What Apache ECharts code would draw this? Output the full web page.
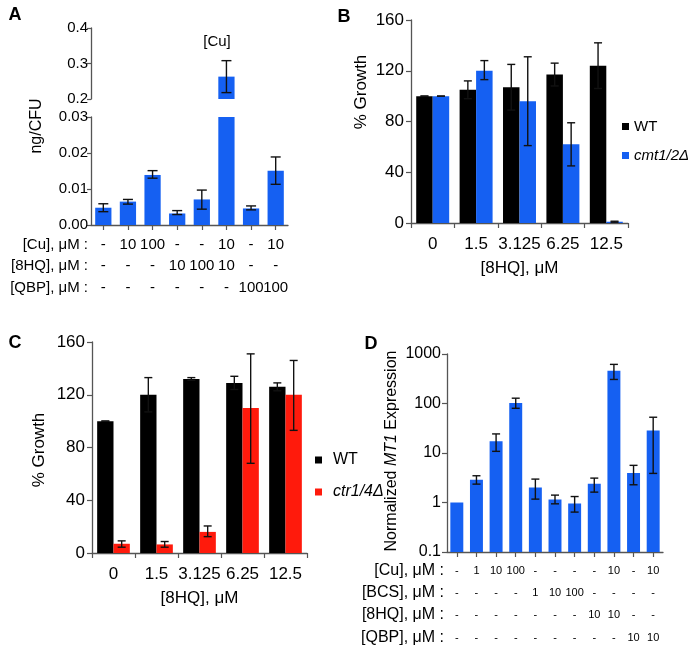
<!DOCTYPE html>
<html><head><meta charset="utf-8">
<script src="https://cdn.jsdelivr.net/npm/echarts@6/dist/echarts.min.js"></script>
<style>html,body{margin:0;padding:0;background:#fff}#c{width:689px;height:659px}</style>
</head><body><div id="c"></div>
<script>
// ---------- Panel A ----------
const aCu  = ['-','10','100','-','-','10','-','10'];
const a8HQ = ['-','-','-','10','100','10','-','-'];
const aQBP = ['-','-','-','-','-','-','100','100'];
const aVals = [0.0048, 0.0065, 0.0139, 0.0032, 0.0071, 0.263, 0.0046, 0.0151];
const aLow  = [0.0037, 0.0058, 0.0130, 0.0029, 0.0044, 0.218, 0.0042, 0.0113];
const aHigh = [0.0059, 0.0071, 0.0151, 0.0040, 0.0097, 0.308, 0.0053, 0.0189];
const aUpperTicks = [0.2, 0.4, 0.1];
const aLowerTicks = [0, 0.03, 0.01];
// ---------- Panel B ----------
const bCats = ['0','1.5','3.125','6.25','12.5'];
const bWT    = [100, 105, 107, 117, 124];
const bWTLo  = [100, 98, 89, 108, 106];
const bWTHi  = [100, 112, 125, 126, 142];
const bCmt   = [100, 120, 96, 62, 1];
const bCmtLo = [100, 113, 61, 45, 0.6];
const bCmtHi = [100, 128, 131, 79, 1.4];
// ---------- Panel C ----------
const cCats = ['0','1.5','3.125','6.25','12.5'];
const cWT    = [100, 120, 132, 129, 126];
const cWTLo  = [100, 107, 131, 124, 123];
const cWTHi  = [100, 133, 133, 134, 129];
const cCtr   = [7, 6.5, 16, 110, 120];
const cCtrLo = [4.4, 4.4, 12.4, 68, 93];
const cCtrHi = [9.2, 8.7, 20.5, 151, 146];
// ---------- Panel D ----------
const dCu  = ['-','1','10','100','-','-','-','-','10','-','10'];
const dBCS = ['-','-','-','-','1','10','100','-','-','-','-'];
const d8HQ = ['-','-','-','-','-','-','-','10','10','-','-'];
const dQBP = ['-','-','-','-','-','-','-','-','-','10','10'];
const dVals = [1.0, 2.88, 17.2, 102, 2.01, 1.15, 0.955, 2.39, 459, 3.93, 28.4];
const dLo   = [null, 2.35, 10.8, 80, 1.17, 0.94, 0.64, 1.62, 306, 2.28, 3.87];
const dHi   = [null, 3.47, 24.3, 128, 2.97, 1.41, 1.32, 3.11, 617, 5.63, 52.8];

const FONT = '"Liberation Sans", Arial, Helvetica, sans-serif';
const AX = '#555';
const BLUE = '#1560f2';
const RED = '#ff1a0c';
const idx = n => Array.from({length:n}, (_, i) => String(i));

function errSeries(xi, yi, lo, hi, capW, frac, keep) {
  const data = [];
  lo.forEach((l, i) => { if (l != null && (!keep || keep(l, hi[i]))) data.push([i, l, hi[i]]); });
  return {
    type: 'custom', xAxisIndex: xi, yAxisIndex: yi, z: 5, silent: true,
    encode: {x: 0, y: [1, 2]}, data,
    renderItem: (params, api) => {
      const i = api.value(0);
      const band = api.size([1, 0])[0];
      const p1 = api.coord([i, api.value(1)]);
      const p2 = api.coord([i, api.value(2)]);
      const x = p1[0] + frac * band;
      const st = {stroke: '#111', lineWidth: 1.4};
      return {type: 'group', children: [
        {type: 'line', shape: {x1: x, y1: p1[1], x2: x, y2: p2[1]}, style: st},
        {type: 'line', shape: {x1: x - capW/2, y1: p1[1], x2: x + capW/2, y2: p1[1]}, style: st},
        {type: 'line', shape: {x1: x - capW/2, y1: p2[1], x2: x + capW/2, y2: p2[1]}, style: st}
      ]};
    }
  };
}

function rowAxis(grid, data, name, offset, fs, nfs) {
  return {
    type: 'category', gridIndex: grid, position: 'bottom', offset, data,
    axisLine: {show: false}, axisTick: {show: false},
    axisLabel: {interval: 0, margin: 0, verticalAlign: 'middle', fontSize: fs, color: '#000', fontFamily: FONT},
    name, nameLocation: 'start', nameGap: 3,
    nameTextStyle: {fontSize: nfs, color: '#000', fontFamily: FONT, align: 'right', verticalAlign: 'middle'}
  };
}

const tickStyle = {show: true, length: 5, lineStyle: {color: AX, width: 1.2}};
const lineStyle = {show: true, lineStyle: {color: AX, width: 1.3}};

const option = {
  animation: false,
  textStyle: {fontFamily: FONT},
  grid: [
    {left: 91, top: 28, width: 197, height: 71},
    {left: 91, top: 117, width: 197, height: 108},
    {left: 411, top: 20, width: 217, height: 203},
    {left: 92, top: 342, width: 215, height: 211},
    {left: 447, top: 354, width: 216, height: 198}
  ],
  xAxis: [
    {type: 'category', gridIndex: 0, data: idx(8), show: false},
    {type: 'category', gridIndex: 1, data: idx(8), axisLine: lineStyle,
      axisTick: Object.assign({alignWithLabel: true}, tickStyle), axisLabel: {show: false}},
    rowAxis(1, aCu, '[Cu], μM :', 20, 15, 15),
    rowAxis(1, a8HQ, '[8HQ], μM :', 41, 15, 15),
    rowAxis(1, aQBP, '[QBP], μM :', 63, 15, 15),
    {type: 'category', gridIndex: 2, data: bCats, axisLine: lineStyle, axisTick: Object.assign({interval: 0}, tickStyle),
      axisLabel: {interval: 0, margin: 13, fontSize: 17, color: '#000'},
      name: '[8HQ], μM', nameLocation: 'middle', nameGap: 37, nameTextStyle: {fontSize: 17, color: '#000'}},
    {type: 'category', gridIndex: 3, data: cCats, axisLine: lineStyle, axisTick: Object.assign({interval: 0}, tickStyle),
      axisLabel: {interval: 0, margin: 13, fontSize: 17, color: '#000'},
      name: '[8HQ], μM', nameLocation: 'middle', nameGap: 37, nameTextStyle: {fontSize: 17, color: '#000'}},
    {type: 'category', gridIndex: 4, data: idx(11), axisLine: lineStyle,
      axisTick: Object.assign({alignWithLabel: true, interval: 0}, tickStyle), axisLabel: {show: false}},
    rowAxis(4, dCu, '[Cu], μM :', 19, 11, 16),
    rowAxis(4, dBCS, '[BCS], μM :', 41, 11, 16),
    rowAxis(4, d8HQ, '[8HQ], μM :', 63, 11, 16),
    rowAxis(4, dQBP, '[QBP], μM :', 86, 11, 16)
  ],
  yAxis: [
    {type: 'value', gridIndex: 0, min: aUpperTicks[0], max: aUpperTicks[1], interval: aUpperTicks[2],
      axisLine: lineStyle, axisTick: Object.assign({}, tickStyle, {length: 4}), splitLine: {show: false},
      axisLabel: {margin: 3, fontSize: 15, color: '#000', formatter: v => v.toFixed(1)}},
    {type: 'value', gridIndex: 1, min: aLowerTicks[0], max: aLowerTicks[1], interval: aLowerTicks[2],
      axisLine: lineStyle, axisTick: Object.assign({}, tickStyle, {length: 4}), splitLine: {show: false},
      axisLabel: {margin: 3, fontSize: 15, color: '#000', formatter: v => v.toFixed(2)}},
    {type: 'value', gridIndex: 2, min: 0, max: 160, interval: 40,
      axisLine: lineStyle, axisTick: tickStyle, splitLine: {show: false},
      axisLabel: {margin: 7, fontSize: 17, color: '#000'}},
    {type: 'value', gridIndex: 3, min: 0, max: 160, interval: 40,
      axisLine: lineStyle, axisTick: tickStyle, splitLine: {show: false},
      axisLabel: {margin: 7, fontSize: 17, color: '#000'}},
    {type: 'log', gridIndex: 4, min: 0.1, max: 1000, logBase: 10, startValue: 0.1,
      axisLine: lineStyle, axisTick: tickStyle, splitLine: {show: false},
      axisLabel: {margin: 6, fontSize: 16, color: '#000',
        formatter: v => v >= 1 ? String(Math.round(v)) : String(+v.toFixed(1))}}
  ],
  legend: [
    {orient: 'vertical', left: 617, top: 114, itemWidth: 7, itemHeight: 7, itemGap: 14, icon: 'rect',
      selectedMode: false, data: ['WT', 'cmt1/2Δ'],
      formatter: n => n === 'WT' ? n : '{i|' + n + '}',
      textStyle: {fontSize: 15, color: '#000', rich: {i: {fontStyle: 'italic', fontSize: 15, fontFamily: FONT}}}},
    {orient: 'vertical', left: 310, top: 447, itemWidth: 7, itemHeight: 7, itemGap: 16, icon: 'rect',
      selectedMode: false, data: ['WT', 'ctr1/4Δ'],
      formatter: n => n === 'WT' ? n : '{i|' + n + '}',
      textStyle: {fontSize: 16, color: '#000', padding: [0, 0, 0, 6], rich: {i: {fontStyle: 'italic', fontSize: 16, fontFamily: FONT}}}}
  ],
  series: [
    {type: 'bar', xAxisIndex: 0, yAxisIndex: 0, barWidth: '66%', clip: true,
      itemStyle: {color: BLUE}, data: aVals.map(v => v >= aUpperTicks[0] ? v : '-')},
    {type: 'bar', xAxisIndex: 1, yAxisIndex: 1, barWidth: '66%', clip: true,
      itemStyle: {color: BLUE}, data: aVals},
    errSeries(0, 0, aLow, aHigh, 10, 0, (l, h) => l >= aUpperTicks[0]),
    errSeries(1, 1, aLow, aHigh, 10, 0, (l, h) => h <= aLowerTicks[1]),

    {type: 'bar', name: 'WT', xAxisIndex: 5, yAxisIndex: 2, barWidth: '38%', barGap: '0%',
      itemStyle: {color: '#000'}, data: bWT},
    {type: 'bar', name: 'cmt1/2Δ', xAxisIndex: 5, yAxisIndex: 2, barWidth: '38%', barGap: '0%',
      itemStyle: {color: BLUE}, data: bCmt},
    errSeries(5, 2, bWTLo, bWTHi, 8, -0.19),
    errSeries(5, 2, bCmtLo, bCmtHi, 8, 0.19),

    {type: 'bar', name: 'WT', xAxisIndex: 6, yAxisIndex: 3, barWidth: '38%', barGap: '0%',
      itemStyle: {color: '#000'}, data: cWT},
    {type: 'bar', name: 'ctr1/4Δ', xAxisIndex: 6, yAxisIndex: 3, barWidth: '38%', barGap: '0%',
      itemStyle: {color: RED}, data: cCtr},
    errSeries(6, 3, cWTLo, cWTHi, 8, -0.19),
    errSeries(6, 3, cCtrLo, cCtrHi, 8, 0.19),

    {type: 'bar', xAxisIndex: 7, yAxisIndex: 4, barWidth: '66%',
      itemStyle: {color: BLUE}, data: dVals},
    errSeries(7, 4, dLo, dHi, 8, 0)
  ],
  graphic: [
    {type: 'text', x: 15, y: 15, style: {text: 'A', fontSize: 18, fontWeight: 'bold', fontFamily: FONT, fill: '#000', align: 'center', verticalAlign: 'middle'}},
    {type: 'text', x: 344, y: 17, style: {text: 'B', fontSize: 18, fontWeight: 'bold', fontFamily: FONT, fill: '#000', align: 'center', verticalAlign: 'middle'}},
    {type: 'text', x: 15, y: 343, style: {text: 'C', fontSize: 18, fontWeight: 'bold', fontFamily: FONT, fill: '#000', align: 'center', verticalAlign: 'middle'}},
    {type: 'text', x: 371, y: 344, style: {text: 'D', fontSize: 18, fontWeight: 'bold', fontFamily: FONT, fill: '#000', align: 'center', verticalAlign: 'middle'}},
    {type: 'text', x: 217, y: 42, style: {text: '[Cu]', fontSize: 15, fontFamily: FONT, fill: '#000', align: 'center', verticalAlign: 'middle'}},
    {type: 'text', x: 37, y: 126, rotation: Math.PI / 2, style: {text: 'ng/CFU', fontSize: 16, fontFamily: FONT, fill: '#000', align: 'center', verticalAlign: 'middle'}},
    {type: 'text', x: 361, y: 92, rotation: Math.PI / 2, style: {text: '% Growth', fontSize: 17, fontFamily: FONT, fill: '#000', align: 'center', verticalAlign: 'middle'}},
    {type: 'text', x: 39, y: 450, rotation: Math.PI / 2, style: {text: '% Growth', fontSize: 17, fontFamily: FONT, fill: '#000', align: 'center', verticalAlign: 'middle'}},
    {type: 'text', x: 392, y: 451, rotation: Math.PI / 2, style: {text: 'Normalized {i|MT1} Expression', fontSize: 16, fontFamily: FONT, fill: '#000', align: 'center', verticalAlign: 'middle',
      rich: {i: {fontStyle: 'italic', fontSize: 16, fontFamily: FONT, fill: '#000'}}}}
  ]
};
const chart = echarts.init(document.getElementById('c'), null, {renderer: 'canvas'});
chart.setOption(option);
</script></body></html>
